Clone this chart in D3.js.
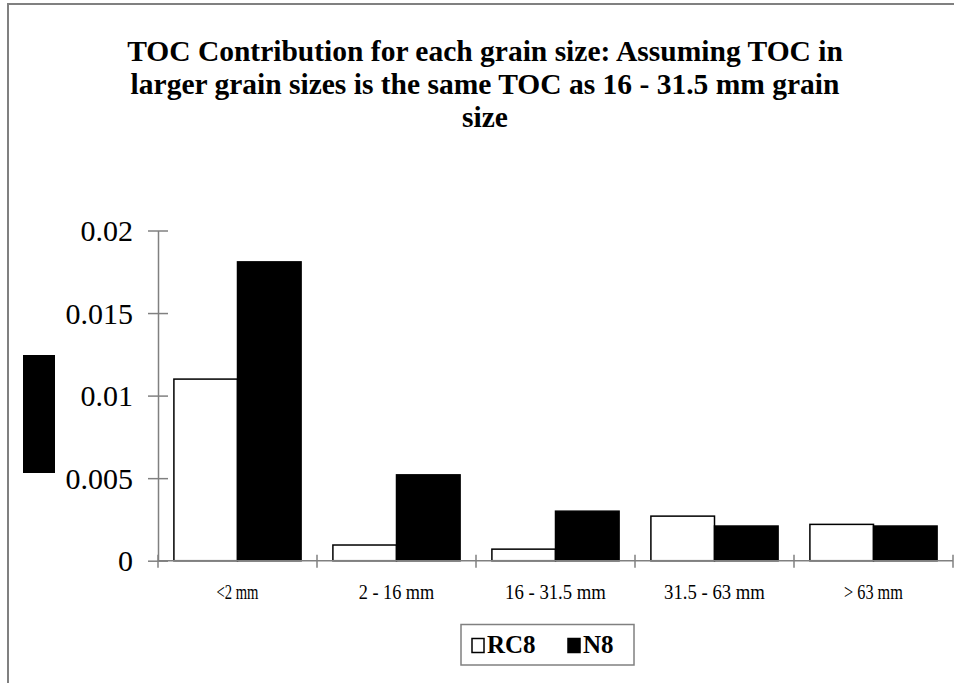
<!DOCTYPE html>
<html>
<head>
<meta charset="utf-8">
<script src="https://cdn.jsdelivr.net/npm/d3@7"></script>
<style>
  body { margin: 0; background: #fff; }
  svg { display: block; font-family: "Liberation Serif", "Times New Roman", serif; }
</style>
</head>
<body>
<svg id="chart" width="954" height="683"></svg>
<script>
const categories = ["<2 mm", "2 - 16 mm", "16 - 31.5 mm", "31.5 - 63 mm", "> 63 mm"];
const series = ["RC8", "N8"];
const rc8Values = [0.011, 0.00095, 0.0007, 0.0027, 0.0022];
const n8Values = [0.0181, 0.0052, 0.0030, 0.0021, 0.0021];
const yTicks = [0, 0.005, 0.01, 0.015, 0.02];
const titleLines = [
    "TOC Contribution for each grain size: Assuming TOC in",
    "larger grain sizes is the same TOC as 16 - 31.5 mm grain",
    "size"
];

const svg = d3.select("#chart");
const plot = { left: 158, right: 953, top: 230.5, bottom: 560.7 };

// outer chart frame (runs off the right and bottom edges)
svg.append("rect")
    .attr("x", 8).attr("y", 4)
    .attr("width", 1000).attr("height", 800)
    .attr("fill", "none")
    .attr("stroke", "#808080")
    .attr("stroke-width", 2);

// title
svg.append("g").selectAll("text")
    .data(titleLines)
    .enter().append("text")
    .attr("x", 485)
    .attr("y", (d, i) => 60.5 + i * 33)
    .attr("text-anchor", "middle")
    .attr("font-family", "Liberation Serif")
    .attr("font-size", "29.5px")
    .attr("font-weight", "bold")
    .attr("fill", "#000")
    .text(d => d);

// y axis title block
svg.append("rect")
    .attr("x", 23).attr("y", 355)
    .attr("width", 32).attr("height", 118)
    .attr("fill", "#000");

const x0 = d3.scaleBand()
    .domain(categories)
    .range([plot.left, plot.right])
    .padding(0);

const x1 = d3.scaleBand()
    .domain(series)
    .range([0, x0.bandwidth()])
    .paddingInner(0)
    .paddingOuter(0.25);

const y = d3.scaleLinear()
    .domain([0, 0.02])
    .range([plot.bottom, plot.top]);

const rows = categories.map((c, i) => ({ cat: c, RC8: rc8Values[i], N8: n8Values[i] }));

// bars
const groups = svg.append("g").selectAll("g")
    .data(rows)
    .enter().append("g")
    .attr("transform", d => `translate(${x0(d.cat)},0)`);

groups.selectAll("rect")
    .data(d => series.map(s => ({ key: s, value: d[s] })))
    .enter().append("rect")
    .attr("x", d => x1(d.key))
    .attr("y", d => y(d.value))
    .attr("width", x1.bandwidth())
    .attr("height", d => y(0) - y(d.value))
    .attr("fill", d => d.key === "RC8" ? "#fff" : "#000")
    .attr("stroke", "#000")
    .attr("stroke-width", 1.5);

// y axis
const yAxis = svg.append("g")
    .attr("transform", `translate(${plot.left},0)`)
    .call(d3.axisLeft(y).tickValues(yTicks).tickSize(10).tickSizeOuter(0).tickFormat(d => String(d)));
yAxis.select(".domain").attr("stroke", "#808080").attr("stroke-width", 1.5);
yAxis.selectAll(".tick line")
    .attr("x1", -10).attr("x2", 10)
    .attr("stroke", "#808080").attr("stroke-width", 1.5);
yAxis.selectAll(".tick text")
    .attr("x", -25)
    .attr("dy", "0.34em")
    .attr("font-size", "30px")
    .attr("font-family", "Liberation Serif")
    .attr("fill", "#000");

// x axis
const xEdges = categories.map(c => x0(c)).concat([plot.right]);
const xAxisG = svg.append("g");
xAxisG.append("line")
    .attr("x1", plot.left).attr("x2", plot.right)
    .attr("y1", y(0)).attr("y2", y(0))
    .attr("stroke", "#808080").attr("stroke-width", 1.5);
xAxisG.selectAll("line.tick")
    .data(xEdges)
    .enter().append("line")
    .attr("class", "tick")
    .attr("x1", d => d).attr("x2", d => d)
    .attr("y1", y(0) - 6).attr("y2", y(0) + 7)
    .attr("stroke", "#808080").attr("stroke-width", 1.5);
xAxisG.selectAll("text")
    .data(categories)
    .enter().append("text")
    .attr("x", d => x0(d) + x0.bandwidth() / 2)
    .attr("y", 599)
    .attr("text-anchor", "middle")
    .attr("font-size", "20px")
    .attr("textLength", d => d.length * 8.4)
    .attr("lengthAdjust", "spacingAndGlyphs")
    .text(d => d);

// legend
const legend = svg.append("g");
legend.append("rect")
    .attr("x", 461).attr("y", 624.5)
    .attr("width", 173).attr("height", 40.5)
    .attr("fill", "#fff")
    .attr("stroke", "#808080")
    .attr("stroke-width", 1.5);
const legendX = [472, 568];
const legendItems = legend.selectAll("g.item")
    .data(series)
    .enter().append("g")
    .attr("class", "item")
    .attr("transform", (d, i) => `translate(${legendX[i]},0)`);
legendItems.append("rect")
    .attr("x", 0).attr("y", 638.5)
    .attr("width", 12).attr("height", 14)
    .attr("fill", d => d === "RC8" ? "#fff" : "#000")
    .attr("stroke", "#000")
    .attr("stroke-width", 1.5);
legendItems.append("text")
    .attr("x", 15).attr("y", 653)
    .attr("font-size", "25px")
    .attr("font-weight", "bold")
    .attr("font-family", "Liberation Serif")
    .attr("fill", "#000")
    .text(d => d);
</script>
</body>
</html>
